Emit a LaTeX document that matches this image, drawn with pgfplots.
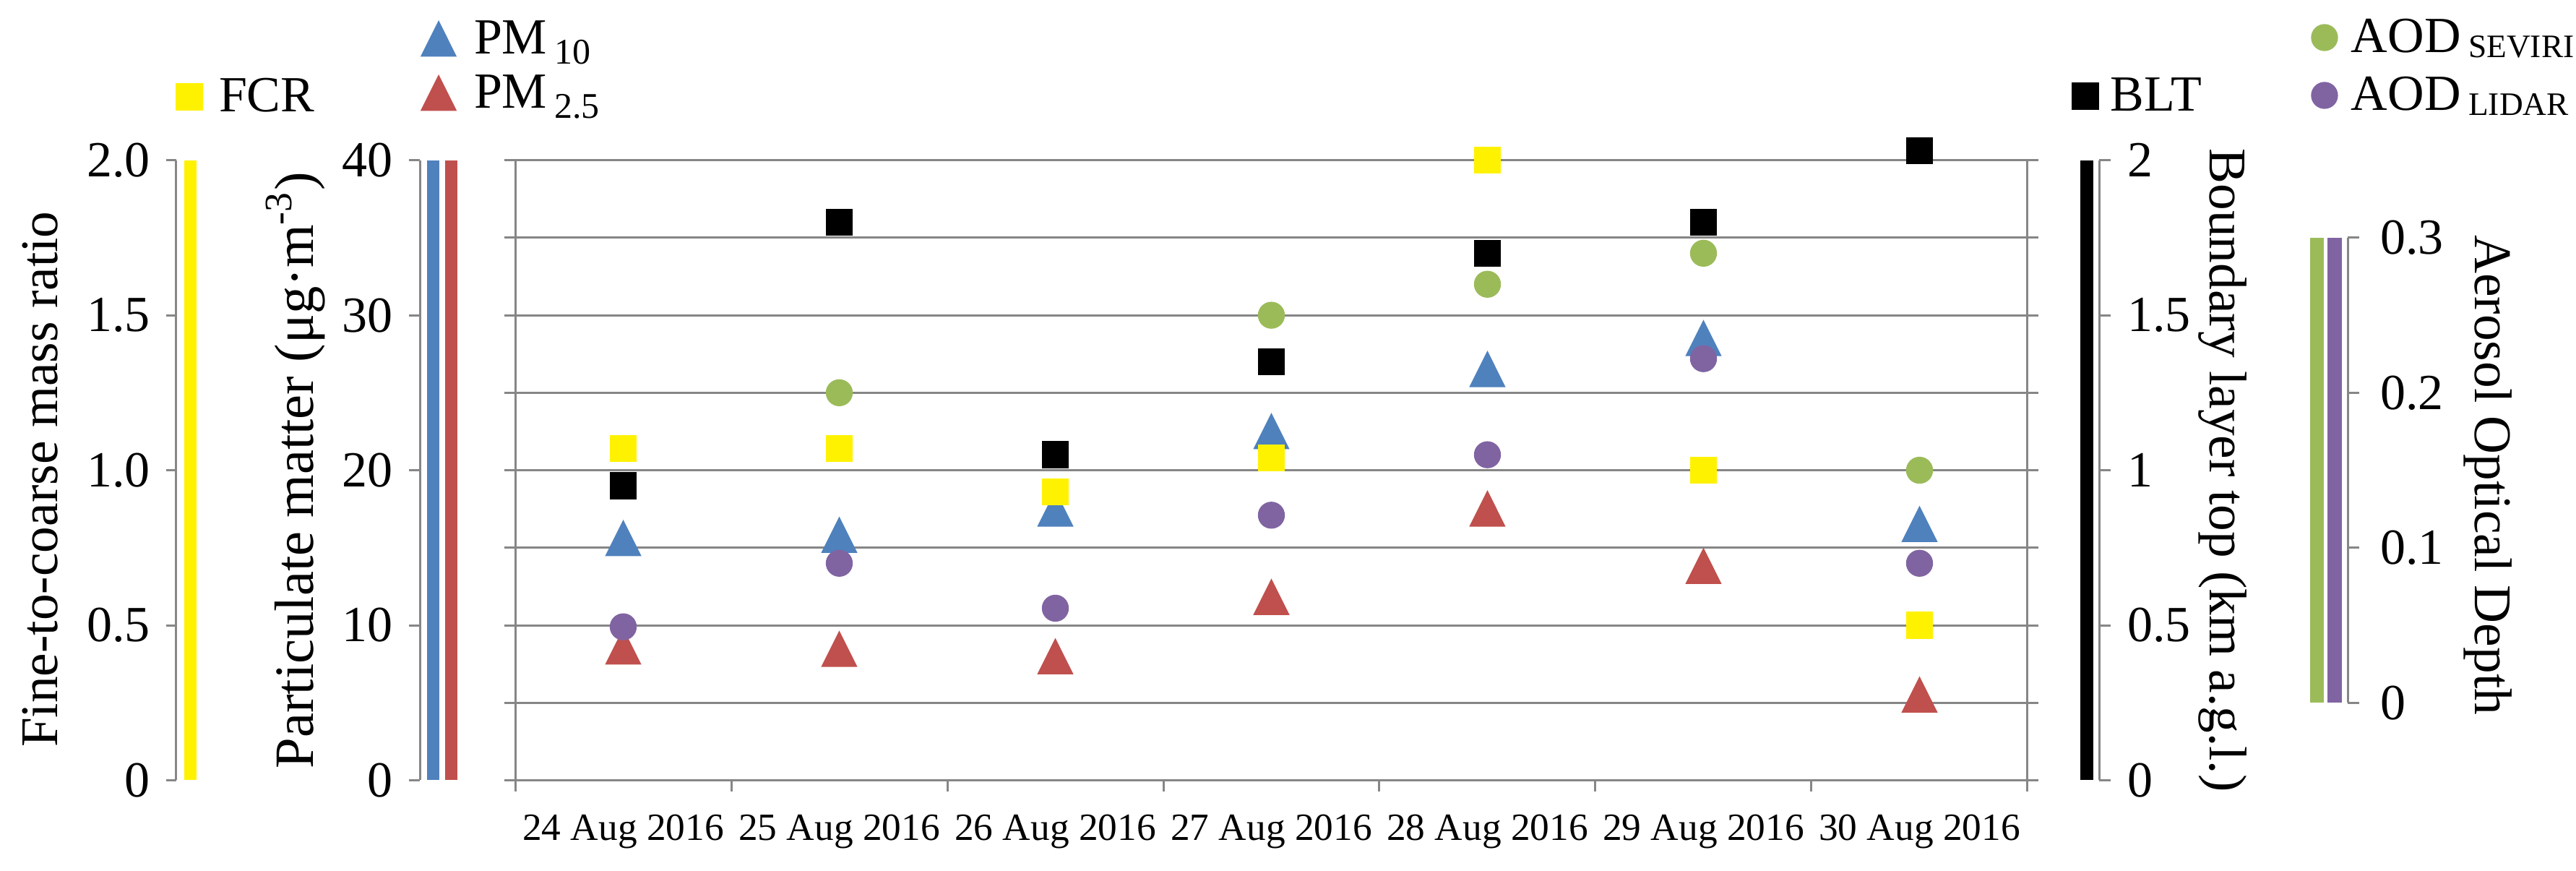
\documentclass[border=0pt]{standalone}
\usepackage{pgfplots}
\usepackage{pgfplotstable}
\pgfplotsset{compat=1.18}
\usepackage{fontspec}
\setmainfont{Liberation Serif}

\definecolor{fcr}{RGB}{255,242,0}
\definecolor{pmten}{RGB}{79,129,189}
\definecolor{pmtwo}{RGB}{192,80,77}
\definecolor{sev}{RGB}{155,187,89}
\definecolor{lid}{RGB}{128,100,162}
\definecolor{gridgray}{RGB}{134,134,134}

\newcommand\tickfont{\fontsize{10.5}{12}\selectfont}
\newcommand\labfont{\fontsize{11}{13}\selectfont}
\newcommand\pmlabfont{\fontsize{11.5}{13}\selectfont}
\newcommand\xfont{\fontsize{8}{9.6}\selectfont}
\newcommand\legfont{\fontsize{10.5}{12}\selectfont}
\newcommand\sub[1]{\raisebox{-2pt}{\fontsize{7.5}{8}\selectfont #1}}
\newcommand\subc[1]{\raisebox{-1pt}{\fontsize{6.8}{8}\selectfont #1}}

\pgfplotstableread{
x y
0 15.6
1 15.8
2 17.5
3 22.5
4 26.5
5 28.5
6 16.5
}\pmtentab
\pgfplotstableread{
x y
0 8.6
1 8.45
2 7.97
3 11.8
4 17.5
5 13.8
6 5.5
}\pmtwotab
\pgfplotstableread{
x y
0 1.07
1 1.07
2 0.93
3 1.04
4 2.00
5 1.00
6 0.50
}\fcrtab
\pgfplotstableread{
x y
0 0.95
1 1.80
2 1.05
3 1.35
4 1.70
5 1.80
6 2.03
}\blttab
\pgfplotstableread{
x y
1 0.20
3 0.25
4 0.27
5 0.29
6 0.15
}\sevtab
\pgfplotstableread{
x y
0 0.049
1 0.090
2 0.061
3 0.121
4 0.160
5 0.222
6 0.090
}\lidtab

\pgfplotsset{
  basebox/.style={scale only axis, width=313.95pt, height=128.67pt,
    at={(106.95pt,-161.925pt)}, anchor=south west, xmin=-0.5, xmax=6.5, clip=false},
  dataax/.style={basebox, hide axis},
  myleg/.style n args={3}{legend style={at={(axis description cs:#1,#2)}, anchor=west,
    draw=none, fill=none, inner sep=0pt, outer sep=0pt, column sep=#3,
    cells={anchor=west},
    nodes={inner sep=0pt, outer sep=0pt, text height=7.3pt, text depth=1pt, font=\legfont}}},
  mk/.style={only marks, legend image code/.code={\path[draw=none,fill=none] (-4pt,-4pt) rectangle (4pt,4pt);
    \draw[##1] plot coordinates {(0pt,0pt)};}},
  tri/.style={mk, mark=triangle*, mark size=3.98pt, mark options={yshift=-1.15pt, yscale=1.155}},
  sq/.style={mk, mark=square*, mark size=2.6pt},
  ci/.style={mk, mark=*, mark size=2.6pt},
  floatl/.style={scale only axis, width=10pt, xmin=0, xmax=1, xtick=\empty, hide x axis,
    axis y line*=left, ytick pos=left, y axis line style={-, gridgray, line width=0.45pt},
    tick align=outside, tick style={gridgray, line width=0.45pt},
    yticklabel style={font=\tickfont, anchor=east, inner sep=0pt}, anchor=south west},
  floatr/.style={scale only axis, width=10pt, xmin=0, xmax=1, xtick=\empty, hide x axis,
    axis y line*=right, ytick pos=right, y axis line style={-, gridgray, line width=0.45pt},
    tick align=outside, tick style={gridgray, line width=0.45pt},
    yticklabel style={font=\tickfont, anchor=west, inner sep=0pt}, anchor=south east},
}

\begin{document}
\begin{tikzpicture}
\path[use as bounding box] (0pt,0pt) rectangle (534.75pt,-180.75pt);

% main frame with PM10
\begin{axis}[basebox, ymin=0, ymax=40,
  axis line style={gridgray, line width=0.45pt},
  ytick={0,5,...,40}, yticklabels={}, ymajorgrids, grid style={gridgray, line width=0.45pt},
  xtick={-0.5,0.5,1.5,2.5,3.5,4.5,5.5,6.5}, xticklabels={},
  xtick pos=bottom, ytick pos=both,
  tick align=outside, major tick length=2.3pt, tick style={gridgray, line width=0.45pt},
  extra x ticks={0,1,2,3,4,5,6},
  extra x tick labels={24 Aug 2016,25 Aug 2016,26 Aug 2016,27 Aug 2016,28 Aug 2016,29 Aug 2016,30 Aug 2016},
  extra x tick style={major tick length=0pt, xticklabel style={font=\xfont, anchor=base, yshift=-12.5pt, inner sep=0pt}},
  myleg={-0.06339}{1.19550}{3.35pt}]
\addplot[tri, color=pmten] table[x=x,y=y] {\pmtentab};
\addlegendentry{PM\kern1.5pt\sub{10}}
\end{axis}

\begin{axis}[dataax, ymin=0, ymax=40, myleg={-0.06339}{1.10807}{3.35pt}]
\addplot[tri, color=pmtwo] table[x=x,y=y] {\pmtwotab};
\addlegendentry{PM\kern1.5pt\sub{2.5}}
\end{axis}

\begin{axis}[dataax, ymin=0, ymax=2, myleg={-0.22822}{1.10224}{2.15pt}]
\addplot[sq, color=fcr] table[x=x,y=y] {\fcrtab};
\addlegendentry{FCR}
\end{axis}

\begin{axis}[dataax, ymin=0, ymax=2, myleg={1.02548}{1.10340}{1.25pt}]
\addplot[sq, color=black] table[x=x,y=y] {\blttab};
\addlegendentry{BLT}
\end{axis}

\begin{axis}[dataax, ymin=-0.05, ymax=0.35, myleg={1.18363}{1.19783}{1.55pt}]
\addplot[ci, color=sev] table[x=x,y=y] {\sevtab};
\addlegendentry{AOD\kern1.6pt\subc{SEVIRI}}
\end{axis}

\begin{axis}[dataax, ymin=-0.05, ymax=0.35, myleg={1.18363}{1.10457}{1.55pt}]
\addplot[ci, color=lid] table[x=x,y=y] {\lidtab};
\addlegendentry{AOD\kern1.6pt\subc{LIDAR}}
\end{axis}

% FCR axis
\begin{axis}[floatl, height=128.67pt, at={(36.6pt,-161.925pt)},
  ymin=0, ymax=2, ytick={0,0.5,1,1.5,2}, yticklabels={0,0.5,1.0,1.5,2.0},
  major tick length=2.1pt, yticklabel style={xshift=-3.15pt},
  every axis y label/.style={at={(axis description cs:0,0.5)}, xshift=-24.75pt, yshift=-1.9pt, rotate=90, anchor=base, font=\labfont},
  ylabel={Fine-to-coarse mass ratio}]
\end{axis}

% PM axis
\begin{axis}[floatl, height=128.67pt, at={(87.15pt,-161.925pt)},
  ymin=0, ymax=40, ytick={0,10,20,30,40}, yticklabels={0,10,20,30,40},
  major tick length=2.25pt, yticklabel style={xshift=-3.15pt},
  every axis y label/.style={at={(axis description cs:0,0.5)}, xshift=-22.2pt, rotate=90, anchor=base, font=\pmlabfont},
  ylabel={Particulate matter (μg·m\textsuperscript{-3})}]
\end{axis}

% BLT axis
\begin{axis}[floatr, height=128.67pt, at={(435.75pt,-161.925pt)},
  ymin=0, ymax=2, ytick={0,0.5,1,1.5,2}, yticklabels={0,0.5,1,1.5,2},
  major tick length=2.4pt, yticklabel style={xshift=3.3pt},
  every axis y label/.style={at={(axis description cs:1,0.5)}, xshift=22.95pt, rotate=-90, anchor=base, font=\labfont},
  ylabel={Boundary layer top (km a.g.l.)}]
\end{axis}

% AOD axis
\begin{axis}[floatr, height=96.51pt, at={(487.35pt,-145.85pt)},
  ymin=0, ymax=0.3, ytick={0,0.1,0.2,0.3}, yticklabels={0,0.1,0.2,0.3},
  major tick length=2.4pt, yticklabel style={xshift=4.2pt},
  every axis y label/.style={at={(axis description cs:1,0.5)}, xshift=26.4pt, yshift=-1pt, rotate=-90, anchor=base, font=\labfont},
  ylabel={Aerosol Optical Depth}]
\end{axis}

% colour keys beside the axes
\fill[fcr]   (38.25pt,-161.925pt) rectangle (40.8pt,-33.255pt);
\fill[pmten] (88.65pt,-161.925pt) rectangle (91.2pt,-33.255pt);
\fill[pmtwo] (92.4pt,-161.925pt) rectangle (94.95pt,-33.255pt);
\fill[black] (431.85pt,-161.925pt) rectangle (434.55pt,-33.255pt);
\fill[sev]   (479.55pt,-145.85pt) rectangle (482.4pt,-49.34pt);
\fill[lid]   (483.15pt,-145.85pt) rectangle (486.15pt,-49.34pt);
\end{tikzpicture}
\end{document}
